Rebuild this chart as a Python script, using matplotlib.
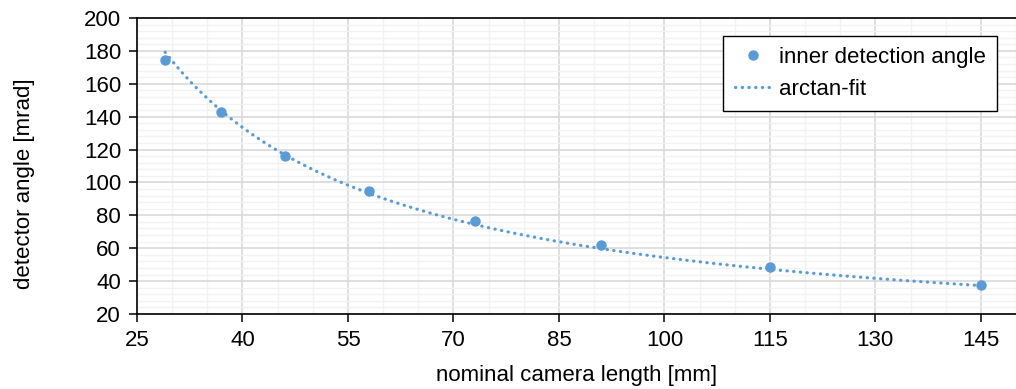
import numpy as np
import matplotlib
matplotlib.use("Agg")
import matplotlib.pyplot as plt
from matplotlib.ticker import MultipleLocator, FixedLocator

plt.rcParams['font.family'] = ['Liberation Sans', 'DejaVu Sans']

# data
camera_length = [29, 37, 46, 58, 73, 91, 115, 145]
inner_angle = [174.5, 142.6, 116.2, 95.0, 76.5, 61.9, 48.7, 37.6]
x_ticks = [25, 40, 55, 70, 85, 100, 115, 130, 145]

# arctan fit parameters: angle = A*arctan(B/L) + C
fit_A = 423.3
fit_B = 13.15
fit_C = -1.0

blue = '#5B9BD5'

fig = plt.figure(figsize=(10.16, 3.89), dpi=100)
ax = fig.add_axes([137/1016, 1-314/389, 1-137/1016, (314-18)/389])

L_fit = np.linspace(min(camera_length), max(camera_length), 400)
ang_fit = fit_A*np.arctan(fit_B/L_fit) + fit_C

ax.plot(camera_length, inner_angle, 'o', color=blue, markersize=6.5,
        label='inner detection angle', zorder=3)
ax.plot(L_fit, ang_fit, color=blue, lw=2.3, linestyle=(0, (0.1, 2.0)),
        dash_capstyle='round', label='arctan-fit', zorder=2)

ax.set_xlim(25, 150)
ax.set_ylim(20, 200)
ax.xaxis.set_major_locator(FixedLocator(x_ticks))
ax.xaxis.set_minor_locator(MultipleLocator(5))
ax.yaxis.set_major_locator(MultipleLocator(20))
ax.yaxis.set_minor_locator(MultipleLocator(4))

ax.grid(which='major', color='#D9D9D9', lw=1.2)
ax.grid(which='minor', color='#F2F2F2', lw=1.0)
ax.set_axisbelow(True)

for s in ['left', 'bottom', 'top']:
    ax.spines[s].set_color('black')
    ax.spines[s].set_linewidth(1.2)
ax.spines['right'].set_visible(False)

ax.tick_params(which='major', direction='out', length=5.5, width=1.1,
               labelsize=16, pad=6, color='black')
ax.tick_params(which='minor', length=0)

ax.set_xlabel('nominal camera length [mm]', fontsize=16, labelpad=10)
ax.set_ylabel('detector angle [mrad]', fontsize=16, labelpad=35, y=0.44)

leg = ax.legend(loc='upper right', bbox_to_anchor=(997/1016, 1-36/389),
                bbox_transform=fig.transFigure, borderaxespad=0,
                fontsize=16, frameon=True,
                fancybox=False, edgecolor='black', framealpha=1,
                handlelength=1.65, handletextpad=0.35, borderpad=0.5,
                labelspacing=0.5)
leg.get_frame().set_linewidth(1.0)

fig.savefig('out.png', dpi=100)
